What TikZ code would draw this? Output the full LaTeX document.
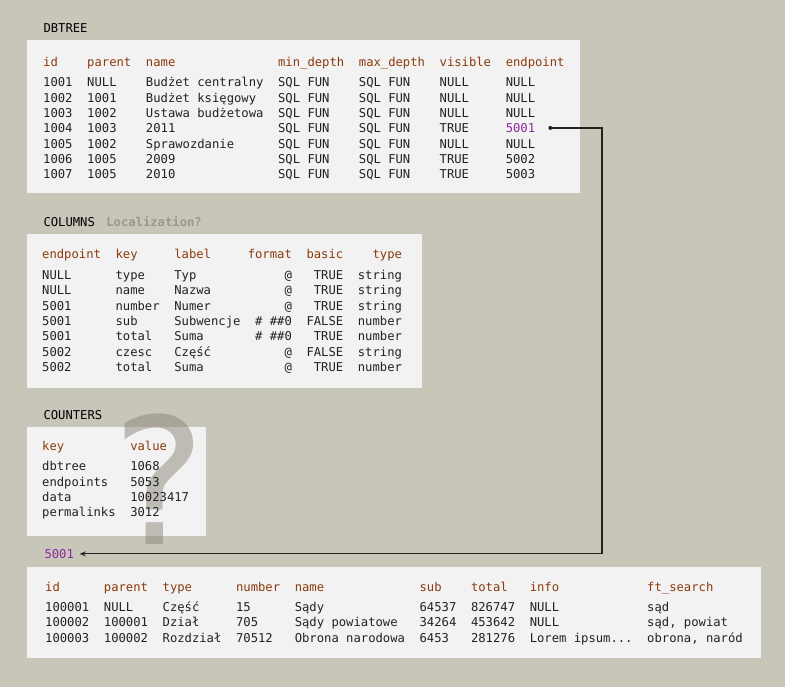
\documentclass[tikz,border=0pt]{standalone}
\usepackage{fontspec}
\usepackage{tikz}
\usetikzlibrary{matrix, arrows.meta, positioning, calc}
\newfontfamily\tabfont{DejaVu Sans Mono}
\newfontfamily\qfont{DejaVu Sans}
\definecolor{bgcolor}{RGB}{200,197,185}
\definecolor{panelcolor}{RGB}{242,242,242}
\definecolor{inkcolor}{RGB}{34,34,34}
\definecolor{headcolor}{RGB}{139,58,14}
\definecolor{linkcolor}{RGB}{140,40,160}
\definecolor{notecolor}{RGB}{155,151,139}
\definecolor{qcolor}{RGB}{138,133,119}

\begin{document}
\begin{tikzpicture}[
    x=1pt, y=-1pt,
    panel/.style={fill=panelcolor},
    title/.style={anchor=base west, inner sep=0pt, font=\tabfont\fontsize{12.2}{15}\selectfont, text=black},
    tbl/.style={matrix of nodes, anchor=north west, inner sep=0pt, column sep=14.66pt, row sep=3.33pt,
        nodes={anchor=base west, inner sep=0pt, text height=9pt, text depth=3pt, font=\tabfont\fontsize{12.2}{15}\selectfont, text=inkcolor},
        row 1/.style={nodes={text=headcolor}}},
    link/.style={-{Stealth[length=6pt, width=5pt]}, line width=1.2pt, draw=inkcolor},
    qmark/.style={anchor=base, inner sep=0pt, font=\qfont\fontsize{176}{176}\selectfont, text=qcolor, text opacity=0.5}
]
\useasboundingbox (0,0) rectangle (785,687);
\fill[bgcolor] (0,0) rectangle (785,687);

\fill[panel] (27,40) rectangle (580,193);
\fill[panel] (27,234.3) rectangle (422,388.3);
\fill[panel] (27,426.7) rectangle (206,535.7);
\fill[panel] (27,567.3) rectangle (761,658.3);

\node[qmark] (qm) at (159,544) {?};

\node[title] (dbtreetitle) at (43.3,32.3) {DBTREE};
\node[title] (columnstitle) at (43.3,226.7) {COLUMNS};
\node[title, right=11pt of columnstitle.base east, anchor=base west, text=notecolor, font=\tabfont\bfseries\fontsize{12.2}{15}\selectfont] (note) {Localization?};
\node[title] (counterstitle) at (43.3,419) {COUNTERS};
\node[title, text=linkcolor] (datatitle) at (44.3,558.3) {5001};

\matrix[tbl] (dbtree) at (43,57) {
id & parent & name & min\_depth & max\_depth & visible & endpoint \\[5.4pt]
1001 & NULL & Budżet centralny & SQL FUN & SQL FUN & NULL & NULL \\
1002 & 1001 & Budżet księgowy & SQL FUN & SQL FUN & NULL & NULL \\
1003 & 1002 & Ustawa budżetowa & SQL FUN & SQL FUN & NULL & NULL \\
1004 & 1003 & 2011 & SQL FUN & SQL FUN & TRUE & |[text=linkcolor]| 5001 \\
1005 & 1002 & Sprawozdanie & SQL FUN & SQL FUN & NULL & NULL \\
1006 & 1005 & 2009 & SQL FUN & SQL FUN & TRUE & 5002 \\
1007 & 1005 & 2010 & SQL FUN & SQL FUN & TRUE & 5003 \\
};

\matrix[tbl, column 4/.style={nodes={anchor=base east}}, column 5/.style={nodes={anchor=base east}},
    column 6/.style={nodes={anchor=base east}}] (columns) at (42,249.5) {
endpoint & key & label &[-7.33pt] format & basic & type \\[5.4pt]
NULL & type & Typ & @ & TRUE & string \\
NULL & name & Nazwa & @ & TRUE & string \\
5001 & number & Numer & @ & TRUE & string \\
5001 & sub & Subwencje & \# \#\#0 & FALSE & number \\
5001 & total & Suma & \# \#\#0 & TRUE & number \\
5002 & czesc & Część & @ & FALSE & string \\
5002 & total & Suma & @ & TRUE & number \\
};

\matrix[tbl] (counters) at (42,441) {
key & value \\[5.4pt]
dbtree & 1068 \\
endpoints & 5053 \\
data & 10023417 \\
permalinks & 3012 \\
};

\matrix[tbl] (data) at (45,582.5) {
id & parent & type & number & name & sub & total & info & ft\_search \\[4.6pt]
100001 & NULL & Część & 15 & Sądy & 64537 & 826747 & NULL & sąd \\
100002 & 100001 & Dział & 705 & Sądy powiatowe & 34264 & 453642 & NULL & sąd, powiat \\
100003 & 100002 & Rozdział & 70512 & Obrona narodowa & 6453 & 281276 & Lorem ipsum... & obrona, naród \\
};

\coordinate (bend) at (602,0);
\coordinate (linkstart) at ([xshift=15pt, yshift=2pt]dbtree-5-7.east);
\fill[inkcolor] (linkstart) circle (2pt);
\draw[link] (linkstart) -- (linkstart -| bend) -- (bend |- datatitle.east) -- ([xshift=5.7pt]datatitle.east);
\end{tikzpicture}
\end{document}
